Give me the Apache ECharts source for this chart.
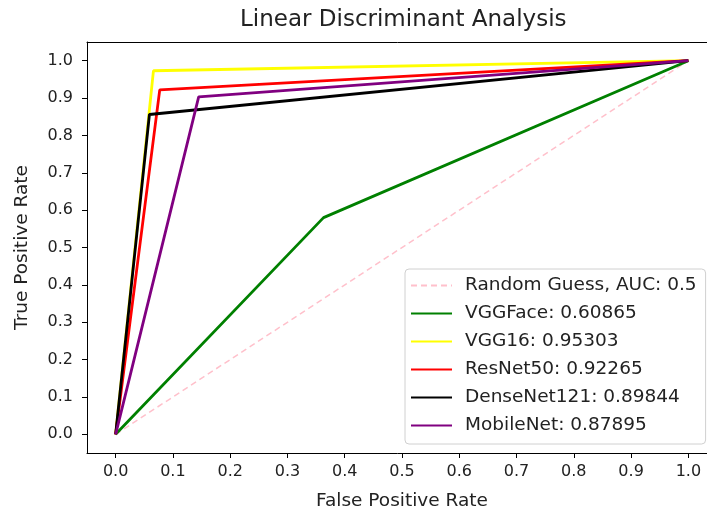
<!DOCTYPE html>
<html>
<head>
<meta charset="utf-8">
<script src="https://cdn.jsdelivr.net/npm/echarts@6/dist/echarts.min.js"></script>
<style>
  html, body { margin: 0; padding: 0; background: #fff; }
  #chart { width: 707px; height: 512px; }
</style>
</head>
<body>
<div id="chart"></div>
<script>
// ROC points: (0,0) -> (fpr, tpr) -> (1,1)
var modelNames = ['VGGFace', 'VGG16', 'ResNet50', 'DenseNet121', 'MobileNet'];
var modelAuc = ['0.60865', '0.95303', '0.92265', '0.89844', '0.87895'];
var modelFpr = [
  [0, 0.363, 1],
  [0, 0.066, 1],
  [0, 0.077, 1],
  [0, 0.059, 1],
  [0, 0.145, 1]
];
var modelTpr = [
  [0, 0.580, 1],
  [0, 0.973, 1],
  [0, 0.922, 1],
  [0, 0.856, 1],
  [0, 0.903, 1]
];
var modelColors = ['#008000', '#ffff00', '#ff0000', '#000000', '#800080'];
var randomFpr = [0, 1];
var randomTpr = [0, 1];
var tickValues = [0, 0.1, 0.2, 0.3, 0.4, 0.5, 0.6, 0.7, 0.8, 0.9, 1.0];

var font = 'DejaVu Sans';

function pairs(xs, ys) {
  var out = [];
  for (var i = 0; i < xs.length; i++) out.push([xs[i], ys[i]]);
  return out;
}

var series = [{
  name: 'Random Guess, AUC: 0.5',
  type: 'line',
  data: pairs(randomFpr, randomTpr),
  symbol: 'none',
  color: '#ffc0cb',
  lineStyle: { color: '#ffc0cb', width: 1.5, type: [6, 4] },
  z: 1
}];
modelNames.forEach(function (n, i) {
  series.push({
    name: n + ': ' + modelAuc[i],
    type: 'line',
    data: pairs(modelFpr[i], modelTpr[i]),
    symbol: 'none',
    color: modelColors[i],
    lineStyle: { color: modelColors[i], width: 2.8 },
    z: 2 + i
  });
});

function axisCommon() {
  return {
    type: 'value',
    min: -0.05,
    max: 1.05,
    splitLine: { show: false },
    axisLine: { show: true, onZero: false, lineStyle: { color: '#000', width: 1 } },
    axisTick: {
      show: true,
      length: 5,
      customValues: tickValues,
      lineStyle: { color: '#000', width: 1 }
    },
    axisLabel: {
      customValues: tickValues,
      color: '#222',
      fontFamily: font,
      fontSize: 16,
      formatter: function (v) { return v.toFixed(1); }
    },
    nameLocation: 'middle',
    nameTextStyle: { color: '#222', fontFamily: font, fontSize: 18.5 }
  };
}

var xAxis = axisCommon();
xAxis.name = 'False Positive Rate';
xAxis.nameGap = 39;
xAxis.axisLabel.margin = 11;

// top spine only; the right spine of the original sits past the picture's edge
var topSpine = {
  type: 'value',
  position: 'top',
  min: -0.05,
  max: 1.05,
  splitLine: { show: false },
  axisLine: { show: true, onZero: false, lineStyle: { color: '#000', width: 1 } },
  axisTick: { show: false },
  axisLabel: { show: false }
};

var yAxis = axisCommon();
yAxis.name = 'True Positive Rate';
yAxis.nameGap = 55;
yAxis.axisLabel.margin = 14;

var chart = echarts.init(document.getElementById('chart'), null, { renderer: 'canvas' });
chart.setOption({
  animation: false,
  backgroundColor: '#fff',
  title: {
    text: 'Linear Discriminant Analysis',
    left: 240,
    top: 9,
    padding: 0,
    textStyle: { color: '#222', fontFamily: font, fontSize: 23, fontWeight: 'normal' }
  },
  grid: {
    left: 87,
    top: 42,
    width: 630,
    height: 411,
    outerBoundsMode: 'none',
    containLabel: false,
    show: false
  },
  xAxis: [xAxis, topSpine],
  yAxis: yAxis,
  legend: {
    orient: 'vertical',
    left: 405,
    top: 269,
    padding: [7, 9, 9, 5],
    itemWidth: 41,
    itemHeight: 18,
    itemGap: 9,
    backgroundColor: 'rgba(255,255,255,0.8)',
    borderColor: '#d0d0d0',
    borderWidth: 1,
    borderRadius: 4,
    itemStyle: { color: 'rgba(0,0,0,0)', borderWidth: 0, opacity: 0 },
    textStyle: {
      color: '#222',
      fontFamily: font,
      fontSize: 18.5,
      lineHeight: 18,
      padding: [0, 0, 0, 8]
    }
  },
  series: series
});
</script>
</body>
</html>
